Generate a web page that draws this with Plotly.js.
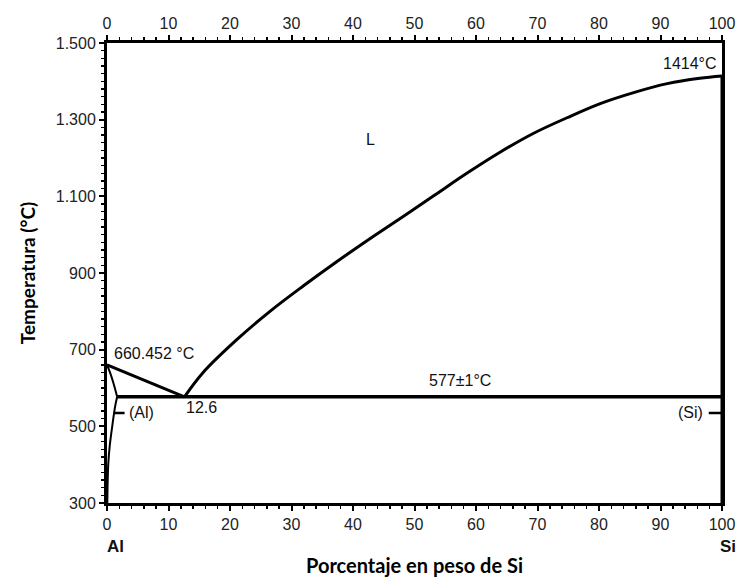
<!DOCTYPE html>
<html>
<head>
<meta charset="utf-8">
<script src="https://cdn.plot.ly/plotly-3.0.1.min.js"></script>
<style>html,body{margin:0;padding:0;background:#fff;}#chart{width:736px;height:577px;}</style>
</head>
<body>
<div id="chart"></div>
<script>
// Liquidus, Al side (wt% Si, °C)
const liqAlX = [0, 12.6];
const liqAlT = [660.452, 577];
// Liquidus, Si side
const liqSiX = [12.6, 15.6, 21.1, 26.5, 31.9, 37.4, 42.8, 48.1, 53.0, 58.5, 63.9, 69.3, 74.8, 80.2, 85.5, 91.1, 96.4, 100];
const liqSiT = [577, 640, 726, 800, 866, 930, 990, 1047, 1100, 1160, 1215, 1264, 1305, 1342, 1370, 1394, 1408, 1414];
// (Al) solidus and solvus
const solAlX = [0, 0.5, 1.1, 1.65];
const solAlT = [660.452, 640, 610, 577];
const solvAlX = [1.65, 1.3, 0.85, 0.45, 0.2, 0.05];
const solvAlT = [577, 550, 500, 450, 400, 300];
// Eutectic line
const eutX = [1.65, 100];
const eutT = [577, 577];
// Si side line (pure Si)
const siX = [100, 100];
const siT = [300, 1414];
// Ticks
const xTicks = [0,10,20,30,40,50,60,70,80,90,100];
const yTicks = [300,500,700,900,1100,1300,1500];
const yTickText = ["300","500","700","900","1.100","1.300","1.500"];

const lineStyle = {color:'#000', width:3};
const traces = [
  {x:liqAlX, y:liqAlT, mode:'lines', line:lineStyle, hoverinfo:'skip'},
  {x:liqSiX, y:liqSiT, mode:'lines', line:{color:'#000', width:3, shape:'spline', smoothing:1}, hoverinfo:'skip'},
  {x:solAlX, y:solAlT, mode:'lines', line:{color:'#000', width:2, shape:'spline'}, hoverinfo:'skip'},
  {x:solvAlX, y:solvAlT, mode:'lines', line:{color:'#000', width:2, shape:'spline'}, hoverinfo:'skip'},
  {x:eutX, y:eutT, mode:'lines', line:{color:'#000', width:3.5}, hoverinfo:'skip'},
  {x:siX, y:siT, mode:'lines', line:{color:'#000', width:3}, hoverinfo:'skip'},
  {x:[0,100], y:[300,300], xaxis:'x2', mode:'lines', line:{color:'rgba(0,0,0,0)'}, hoverinfo:'skip'}
];

const tickFont = {family:'Liberation Sans, Arial, sans-serif', size:16, color:'#222'};
const txtFont = {family:'Liberation Sans, Arial, sans-serif', size:16, color:'#111'};
const minorX = {ticks:'outside', ticklen:3, tickwidth:1.5, dtick:2, tickcolor:'#000'};

const layout = {
  width:736, height:577,
  margin:{l:107, r:14, t:43, b:74},
  paper_bgcolor:'#fff', plot_bgcolor:'#fff',
  showlegend:false,
  xaxis:{range:[0,100], tickvals:xTicks, ticktext:xTicks.map(String), showgrid:false, zeroline:false,
    showline:true, linecolor:'#000', linewidth:3, mirror:false, ticks:'outside', ticklen:5, tickwidth:2, tickcolor:'#000',
    minor:minorX, tickfont:tickFont,
    title:{text:'<b>Porcentaje en peso de Si</b>', font:{family:'Lato, sans-serif', size:20, color:'#000'}, standoff:28}},
  xaxis2:{range:[0,100], overlaying:'x', side:'top', tickvals:xTicks, ticktext:xTicks.map(String), showgrid:false, zeroline:false,
    showline:true, linecolor:'#000', linewidth:3, ticks:'outside', ticklen:5, tickwidth:2, tickcolor:'#000',
    minor:minorX, tickfont:tickFont},
  yaxis:{range:[300,1500], tickvals:yTicks, ticktext:yTickText, showgrid:false, zeroline:false,
    showline:true, linecolor:'#000', linewidth:3, mirror:true, ticks:'outside', ticklen:5, tickwidth:2, tickcolor:'#000',
    minor:{ticks:'outside', ticklen:3, tickwidth:1.5, dtick:20, tickcolor:'#000'},
    tickfont:tickFont,
    title:{text:'<b>Temperatura (°C)</b>', font:{family:'Lato, sans-serif', size:19, color:'#000'}, standoff:16}},
  annotations:[
    {x:99.5, y:1414, xref:'x', yref:'y', text:'1414°C', showarrow:false, xanchor:'right', yanchor:'bottom', yshift:2, font:txtFont},
    {x:42.8, y:1248, xref:'x', yref:'y', text:'L', showarrow:false, font:txtFont},
    {x:0.8, y:690, xref:'x', yref:'y', text:'660.452 °C', showarrow:false, xanchor:'left', font:txtFont},
    {x:15.3, y:549, xref:'x', yref:'y', text:'12.6', showarrow:false, font:txtFont},
    {x:57.4, y:620, xref:'x', yref:'y', text:'577±1°C', showarrow:false, font:txtFont},
    {x:3.2, y:535, xref:'x', yref:'y', text:'(Al)', showarrow:false, xanchor:'left', font:txtFont},
    {x:97.3, y:535, xref:'x', yref:'y', text:'(Si)', showarrow:false, xanchor:'right', font:txtFont},
    {x:1.1, y:535, xref:'x', yref:'y', ax:3.1, ay:535, axref:'x', ayref:'y', text:'', showarrow:true, arrowhead:0, arrowwidth:2.5, arrowcolor:'#000'},
    {x:100, y:535, xref:'x', yref:'y', ax:97.6, ay:535, axref:'x', ayref:'y', text:'', showarrow:true, arrowhead:0, arrowwidth:2.5, arrowcolor:'#000'},
    {x:0, y:0, xref:'x', yref:'paper', text:'<b>Al</b>', showarrow:false, xanchor:'left', yanchor:'top', xshift:-2, yshift:-32, font:{family:'Liberation Sans, Arial, sans-serif', size:17, color:'#111'}},
    {x:100, y:0, xref:'x', yref:'paper', text:'<b>Si</b>', showarrow:false, xanchor:'center', yanchor:'top', xshift:6, yshift:-32, font:{family:'Liberation Sans, Arial, sans-serif', size:17, color:'#111'}}
  ]
};

Plotly.newPlot('chart', traces, layout, {displayModeBar:false, staticPlot:true});
</script>
</body>
</html>
